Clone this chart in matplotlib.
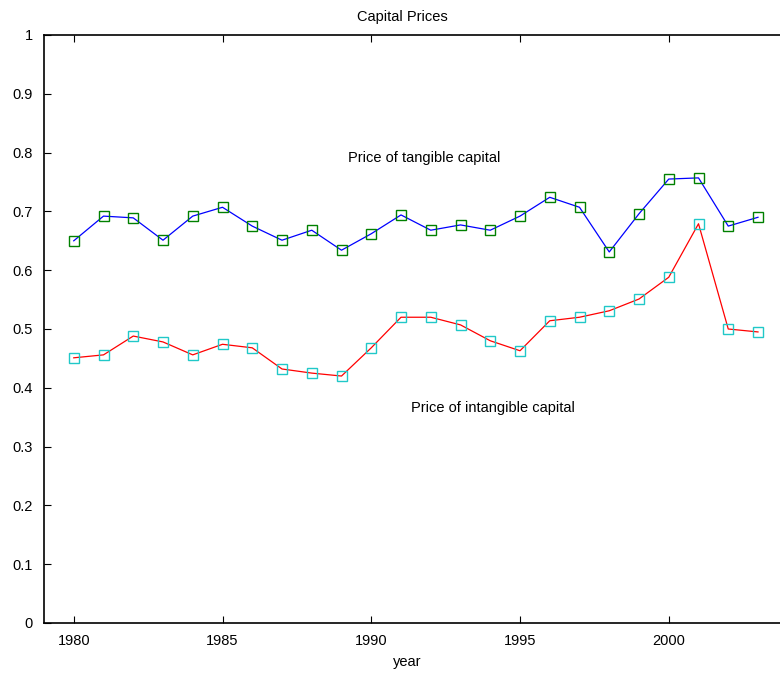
import matplotlib.pyplot as plt

# ----------------------------
# Data
# ----------------------------
years = list(range(1980, 2004))
tangible = [0.650, 0.692, 0.689, 0.651, 0.692, 0.707, 0.675, 0.651, 0.668, 0.634,
            0.662, 0.694, 0.668, 0.677, 0.668, 0.692, 0.724, 0.707, 0.631, 0.696,
            0.755, 0.757, 0.675, 0.690]
intangible = [0.451, 0.456, 0.488, 0.478, 0.456, 0.474, 0.468, 0.432, 0.425, 0.420,
              0.468, 0.520, 0.520, 0.507, 0.480, 0.463, 0.514, 0.520, 0.531, 0.551,
              0.588, 0.679, 0.500, 0.495]
x_ticks = [1980, 1985, 1990, 1995, 2000]
y_ticks = [0, 0.1, 0.2, 0.3, 0.4, 0.5, 0.6, 0.7, 0.8, 0.9, 1]

plt.rcParams['font.family'] = ['Liberation Sans', 'DejaVu Sans']
plt.rcParams['font.size'] = 10.5

fig = plt.figure(figsize=(7.8, 6.77), dpi=100)
ax = fig.add_axes([44 / 780, 54 / 677, 740 / 780, 588 / 677])

ax.plot(years, tangible, color='blue', lw=0.9, marker='s', ms=7.5,
        mfc='none', mec='green', mew=1.0)
ax.plot(years, intangible, color='red', lw=0.9, marker='s', ms=7.5,
        mfc='none', mec='#20c8c8', mew=1.0)

ax.text(1989.22, 0.791, "Price of tangible capital", va='center', ha='left')
ax.text(1991.34, 0.366, "Price of intangible capital", va='center', ha='left')

ax.set_xlim(1979, 1979 + 740 / 29.75)
ax.set_ylim(0, 1)
ax.set_xticks(x_ticks)
ax.set_xticklabels([str(y) for y in x_ticks])
ax.set_yticks(y_ticks)
ax.set_yticklabels([f"{v:g}" for v in y_ticks])
ax.tick_params(direction='in', length=5, width=0.8, top=True, right=False, pad=8)
ax.spines['right'].set_visible(False)
for side in ['left', 'bottom', 'top']:
    ax.spines[side].set_linewidth(1.2)

# title and axis label sit slightly left of the visible box centre
ax.set_xlabel("year", labelpad=5, x=0.4905)
ax.set_title("Capital Prices", fontsize=10.5, pad=10, x=0.484)

fig.savefig("out.png", dpi=100)
